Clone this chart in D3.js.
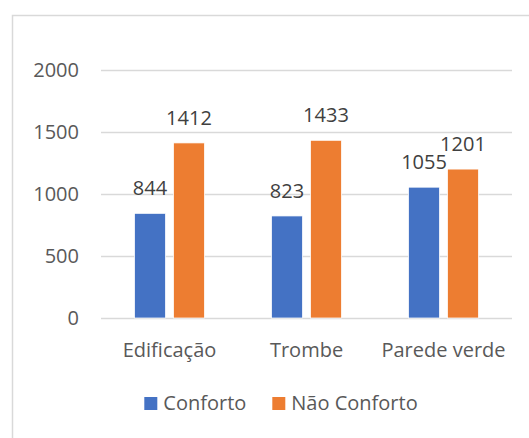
<!DOCTYPE html>
<html>
<head>
<meta charset="utf-8">
<script src="https://cdn.jsdelivr.net/npm/d3@7"></script>
<style>
  body { margin: 0; background: #fff; }
  text { font-family: "Open Sans", "Noto Sans", sans-serif; }
</style>
</head>
<body>
<svg id="chart" width="529" height="438"></svg>
<script>
// chart values
var categories = ["Edificação", "Trombe", "Parede verde"];
var seriesNames = ["Conforto", "Não Conforto"];
var conforto = [844, 823, 1055];
var naoConforto = [1412, 1433, 1201];
var yTicks = [0, 500, 1000, 1500, 2000];

var colors = ["#4472C4", "#ED7D31"];

var svg = d3.select("#chart"),
  width = +svg.attr("width"),
  height = +svg.attr("height");

// outer chart border (runs off the right / bottom edge)
svg.append("rect")
  .attr("x", 12.5).attr("y", 15.5)
  .attr("width", 600).attr("height", 600)
  .attr("fill", "none")
  .attr("stroke", "#d9d9d9")
  .attr("stroke-width", 1.5);

var plot = {left: 101, right: 512, top: 70, bottom: 318};

var x0 = d3.scaleBand()
  .domain(categories)
  .range([plot.left, plot.right])
  .padding(0);

var x1 = d3.scaleBand()
  .domain(seriesNames)
  .range([0, x0.bandwidth()])
  .paddingInner(0.205)
  .paddingOuter(0.86);

var y = d3.scaleLinear()
  .domain([0, 2000])
  .range([plot.bottom, plot.top]);

// gridlines
svg.append("g")
  .selectAll("line")
  .data(yTicks)
  .enter().append("line")
  .attr("x1", plot.left).attr("x2", plot.right)
  .attr("y1", function(d) { return Math.round(y(d)) + 0.5; })
  .attr("y2", function(d) { return Math.round(y(d)) + 0.5; })
  .attr("stroke", "#d9d9d9")
  .attr("stroke-width", 1.5);

// y axis labels
var yAxis = d3.axisLeft(y).tickValues(yTicks).tickFormat(d3.format("d")).tickSize(0).tickPadding(0);
var gy = svg.append("g")
  .attr("transform", "translate(79,0)")
  .call(yAxis);
gy.select(".domain").remove();
gy.selectAll("text")
  .attr("fill", "#595959")
  .style("font-size", "20px")
  .style("font-family", "'Open Sans', sans-serif");

// bars
var rows = categories.map(function(c, i) {
  return {cat: c, values: [conforto[i], naoConforto[i]]};
});

var groups = svg.append("g")
  .selectAll("g")
  .data(rows)
  .enter().append("g")
  .attr("transform", function(d) { return "translate(" + x0(d.cat) + ",0)"; });

groups.selectAll("rect")
  .data(function(d) { return d.values.map(function(v, j) { return {s: seriesNames[j], v: v, j: j}; }); })
  .enter().append("rect")
  .attr("x", function(d) { return x1(d.s); })
  .attr("y", function(d) { return y(d.v); })
  .attr("width", x1.bandwidth())
  .attr("height", function(d) { return y(0) - y(d.v); })
  .attr("fill", function(d) { return colors[d.j]; })
  .attr("stroke", "#fff")
  .attr("stroke-width", 0.75);

// data labels
groups.selectAll("text.lbl")
  .data(function(d) { return d.values.map(function(v, j) { return {s: seriesNames[j], v: v}; }); })
  .enter().append("text")
  .attr("class", "lbl")
  .attr("x", function(d) { return x1(d.s) + x1.bandwidth() / 2; })
  .attr("y", function(d) { return y(d.v) - 18; })
  .attr("text-anchor", "middle")
  .attr("fill", "#404040")
  .style("font-size", "20px")
  .text(function(d) { return d.v; });

// category labels
var xAxis = d3.axisBottom(x0).tickSize(0).tickPadding(0);
var gx = svg.append("g")
  .attr("transform", "translate(0,343)")
  .call(xAxis);
gx.select(".domain").remove();
gx.selectAll("text")
  .attr("fill", "#595959")
  .attr("dy", "0.71em")
  .style("font-size", "20px")
  .style("font-family", "'Open Sans', sans-serif");

// legend
var legend = svg.append("g");
var lx = 0;
seriesNames.forEach(function(name, i) {
  var item = legend.append("g").attr("transform", "translate(" + lx + ",0)");
  item.append("rect")
    .attr("x", 0).attr("y", -13)
    .attr("width", 13).attr("height", 13)
    .attr("fill", colors[i]);
  var t = item.append("text")
    .attr("x", 19).attr("y", 0)
    .attr("fill", "#595959")
    .style("font-size", "20px")
    .text(name);
  lx += 19 + t.node().getComputedTextLength() + 26;
});
var legW = lx - 26;
legend.attr("transform", "translate(" + (281 - legW / 2) + ",410)");
</script>
</body>
</html>
